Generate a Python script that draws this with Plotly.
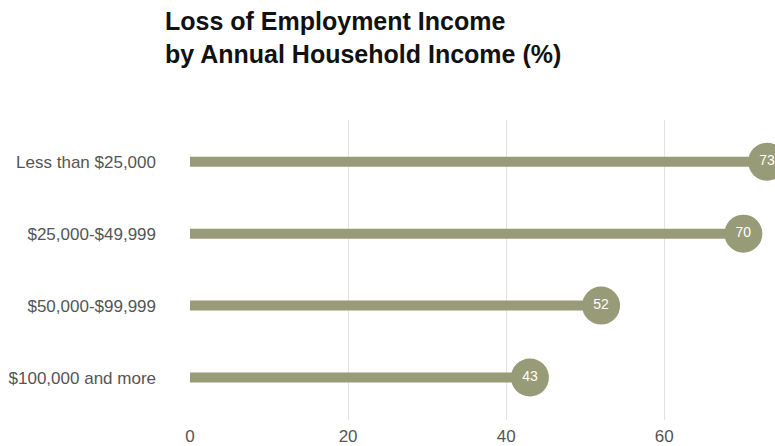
import plotly.graph_objects as go

# Household income brackets, top to bottom
categories = ["Less than $25,000", "$25,000-$49,999", "$50,000-$99,999", "$100,000 and more"]
# Share reporting loss of employment income (%)
values = [73, 70, 52, 43]
x_ticks = [0, 20, 40, 60]

olive = "#979b77"
font_family = "Liberation Sans, Arial, sans-serif"

plot_top, plot_bottom = 120, 422
plot_h = plot_bottom - plot_top

fig = go.Figure()

# Stems of the lollipops
for cat, val in zip(categories, values):
    fig.add_trace(go.Scatter(
        x=[0, val], y=[cat, cat], mode="lines",
        line=dict(color=olive, width=10),
        hoverinfo="skip", showlegend=False, cliponaxis=False,
    ))

# Heads with value labels
fig.add_trace(go.Scatter(
    x=values, y=categories, mode="markers+text",
    marker=dict(color=olive, size=38, line=dict(width=0)),
    text=[str(v) for v in values], textposition="middle center",
    textfont=dict(color="white", size=14, family=font_family),
    showlegend=False, cliponaxis=False,
))

# Two-line heading above the plot
fig.add_annotation(
    text="<b>Loss of Employment Income<br>by Annual Household Income (%)</b>",
    xref="paper", yref="paper",
    x=(163 - 190) / 585, xanchor="left",
    y=1 + (plot_top - 4) / plot_h, yanchor="top",
    align="left", showarrow=False,
    font=dict(size=25, color="#111111", family=font_family),
)

fig.update_layout(
    width=775, height=446,
    margin=dict(l=190, r=0, t=plot_top, b=446 - plot_bottom),
    paper_bgcolor="white", plot_bgcolor="white",
    xaxis=dict(
        range=[0, 74], tickvals=x_ticks, showgrid=True, gridcolor="#e2e2e2",
        gridwidth=1, zeroline=False, showline=False, ticks="",
        ticklabelstandoff=4,
        tickfont=dict(size=17, color="#555555", family=font_family),
        fixedrange=True,
    ),
    yaxis=dict(
        categoryorder="array", categoryarray=categories[::-1],
        range=[-0.59, 3.58], showgrid=False, zeroline=False, showline=False,
        ticks="", ticklabelstandoff=33,
        tickfont=dict(size=17, color="#555555", family=font_family),
        fixedrange=True,
    ),
)

fig.write_html("out.html")
